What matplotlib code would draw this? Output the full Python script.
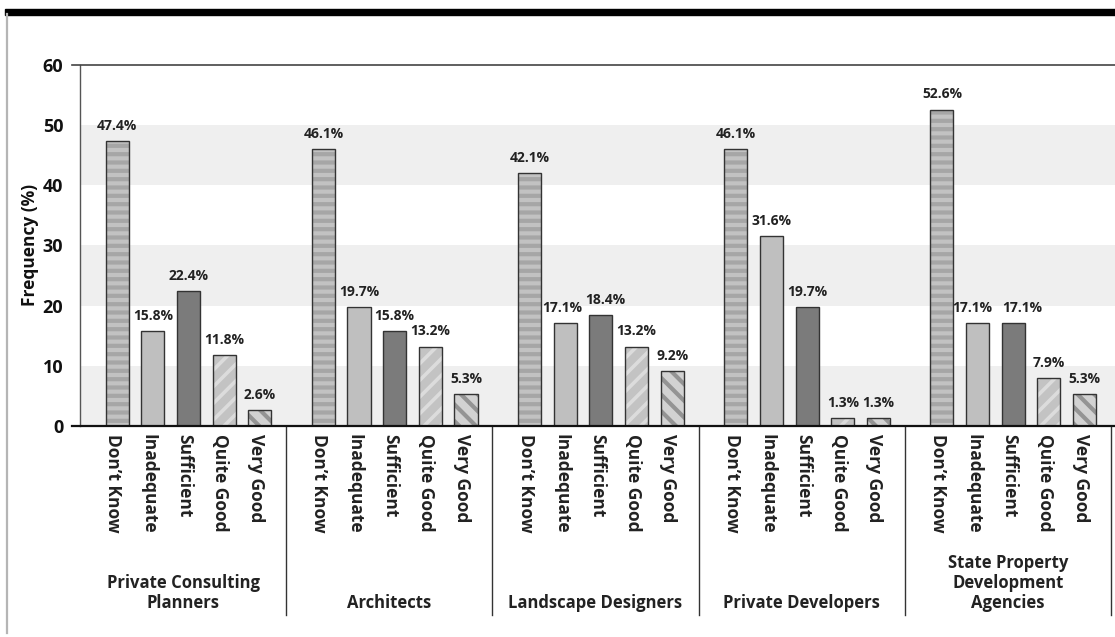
import numpy as np
import matplotlib.pyplot as plt
from matplotlib.lines import Line2D
from matplotlib.patches import Rectangle
from matplotlib.transforms import ScaledTranslation

plt.rcParams['font.family'] = ['Open Sans', 'DejaVu Sans']

# survey results, one value per respondent group
groups = ['Private Consulting\nPlanners', 'Architects', 'Landscape Designers',
          'Private Developers', 'State Property\nDevelopment\nAgencies']
ratings = ['Don\u2019t Know', 'Inadequate', 'Sufficient', 'Quite Good', 'Very Good']
dont_know = [47.4, 46.1, 42.1, 46.1, 52.6]
inadequate = [15.8, 19.7, 17.1, 31.6, 17.1]
sufficient = [22.4, 15.8, 18.4, 19.7, 17.1]
quite_good = [11.8, 13.2, 13.2, 1.3, 7.9]
very_good = [2.6, 5.3, 9.2, 1.3, 5.3]
series = [dont_know, inadequate, sufficient, quite_good, very_good]

# face colour, hatch, hatch colour, hatch width for each rating
styles = [
    ('#c2c2c2', '--', '#a6a6a6', 3.0),
    ('#bfbfbf', '', '#bfbfbf', 1.0),
    ('#7b7b7b', '', '#7b7b7b', 1.0),
    ('#c3c3c3', '//', '#dcdcdc', 2.6),
    ('#d2d2d2', '\\\\', '#949494', 3.0),
]

# sideways nudge (px) for value labels that would otherwise collide
nudge = {(2, 1): -3, (2, 2): 4, (4, 1): -5, (4, 2): 9}

W, H = 1115, 637
fig = plt.figure(figsize=(W / 100, H / 100), dpi=100)
ax = fig.add_axes([80 / W, (H - 426) / H, 1035 / W, 361 / H])

group_w = 206.2
ax.set_xlim(0, 1035 / group_w)
ax.set_ylim(0, 60)

# alternating background bands
for lo in (0, 20, 40):
    ax.axhspan(lo, lo + 10, color='#efefef', lw=0, zorder=0)

offsets = 0.18 + 0.173 * np.arange(5)
bar_w = 0.112
gx = np.arange(len(groups))

for i, vals in enumerate(series):
    face, hatch, hcol, hlw = styles[i]
    x = gx + offsets[i]
    plt.rcParams['hatch.linewidth'] = hlw
    ax.bar(x, vals, bar_w, color=face, edgecolor=hcol, hatch=hatch,
           linewidth=0, zorder=2)
    ax.bar(x, vals, bar_w, fill=False, edgecolor='#333333', linewidth=1.0, zorder=3)
    for g, (xi, v) in enumerate(zip(x, vals)):
        dx = nudge.get((g, i), 0) * 72 / 100
        ax.annotate(f'{v:.1f}%', (xi, v), xytext=(dx, 8), textcoords='offset points',
                    ha='center', va='baseline', fontsize=10, fontweight='bold',
                    color='#222222')

# axes lines
for s in ['top', 'right', 'bottom']:
    ax.spines[s].set_visible(False)
ax.spines['left'].set_color('#555555')
ax.spines['left'].set_linewidth(1.0)
ax.axhline(60, xmin=-8 / 1035, xmax=1, color='#444444', lw=1.2, clip_on=False, zorder=4)
ax.axhline(0, xmin=-8 / 1035, xmax=1, color='#111111', lw=1.6, clip_on=False, zorder=4)

ax.set_xticks([])
ax.set_yticks(range(0, 61, 10))
ax.tick_params(axis='y', length=0, pad=12)
for lab in ax.get_yticklabels():
    lab.set_fontweight('bold')
    lab.set_fontsize(13)
    lab.set_color('#111111')

# group separators below the axis
xt = ax.get_xaxis_transform()
sep_bottom = (426 - 615) / 361
for g in range(1, len(groups) + 1):
    ax.plot([g, g], [0, sep_bottom], transform=xt, color='#333333', lw=1.0,
            clip_on=False)

# rating labels under each bar
shift = xt + ScaledTranslation(-4 / 100, -8 / 100, fig.dpi_scale_trans)
for g in gx:
    for i, name in enumerate(ratings):
        ax.text(g + offsets[i], 0, name, transform=shift, rotation=-90,
                ha='center', va='top', fontsize=12.5, fontweight='bold',
                color='#222222')

# group names
glab_y = (426 - 612) / 361
for g, name in zip(gx, groups):
    ax.text(g + 0.5, glab_y, name, transform=xt, ha='center', va='bottom',
            fontsize=12, fontweight='bold', color='#222222', linespacing=1.15)

fig.text(30 / W, (H - 245) / H, 'Frequency (%)', rotation=90, ha='center',
         va='center', fontsize=12.5, fontweight='bold', color='#111111')

# page frame: heavy rule on top, thin grey rule on the left
fig.add_artist(Rectangle((5 / W, (H - 14.7) / H), 1110 / W, 5.5 / H,
                         color='black', transform=fig.transFigure))
fig.add_artist(Line2D([7 / W, 7 / W], [(H - 14) / H, (H - 633) / H],
                      color='#b5b5b5', lw=1.6, transform=fig.transFigure))

fig.savefig('out.png', dpi=100)
